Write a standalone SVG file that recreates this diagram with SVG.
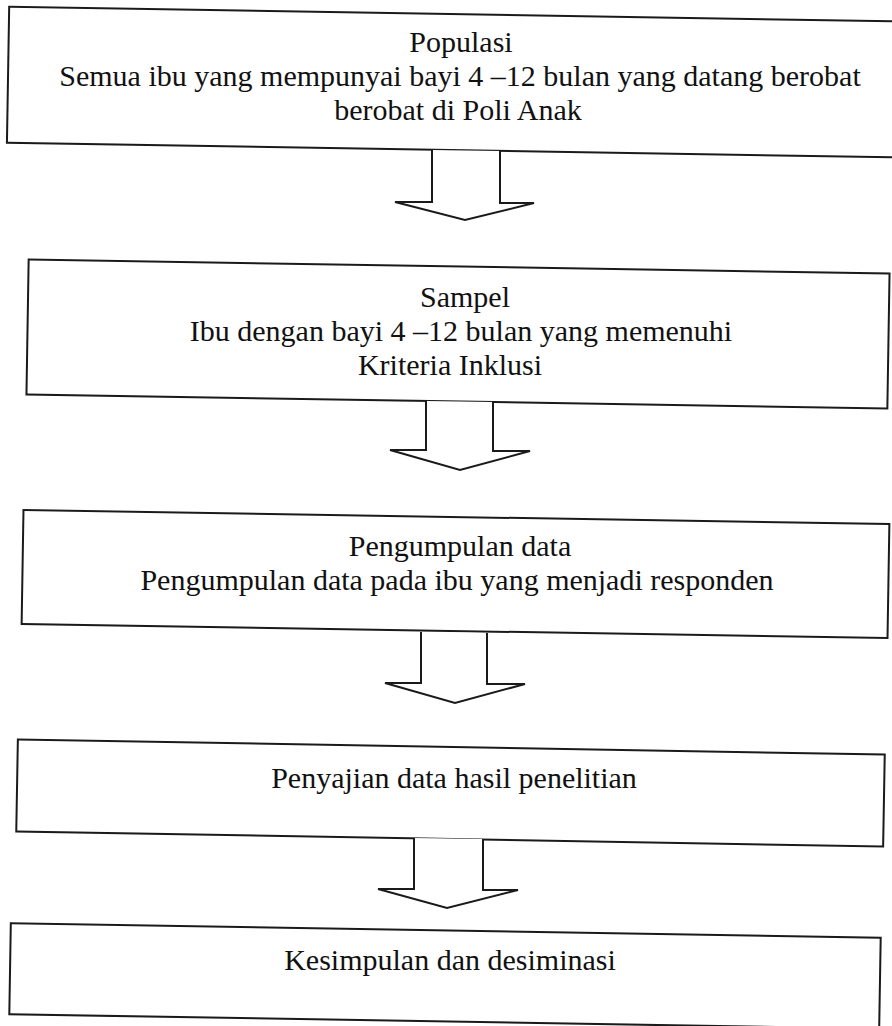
<svg xmlns="http://www.w3.org/2000/svg" width="892" height="1026" viewBox="0 0 892 1026">
<style>
.box{fill:#fff;stroke:#1a1a1a;stroke-width:2}
.t{font-family:"Liberation Serif","Times New Roman",serif;font-size:30px;fill:#111;text-anchor:middle}
.arr{fill:#fff;stroke:#1a1a1a;stroke-width:2;stroke-linejoin:miter}
</style>
<rect width="892" height="1026" fill="#fff"/>
<g id="node-populasi">
<rect class="box" x="8" y="14" width="900" height="136" transform="rotate(0.95 450 82)"/>
<text class="t" x="461" y="52">Populasi</text>
<text class="t" x="460" y="86">Semua ibu yang mempunyai bayi 4 –12 bulan yang datang berobat</text>
<text class="t" x="458" y="120">berobat di Poli Anak</text>
</g>
<g id="node-sampel">
<rect class="box" x="27.5" y="266.5" width="861" height="135" transform="rotate(0.93 458 334)"/>
<text class="t" x="465" y="307">Sampel</text>
<text class="t" x="461" y="341">Ibu dengan bayi 4 –12 bulan yang memenuhi</text>
<text class="t" x="450" y="375">Kriteria Inklusi</text>
</g>
<g id="node-pengumpulan">
<rect class="box" x="22.5" y="517" width="866" height="114" transform="rotate(0.93 455.5 574)"/>
<text class="t" x="460" y="556">Pengumpulan data</text>
<text class="t" x="457" y="590">Pengumpulan data pada ibu yang menjadi responden</text>
</g>
<g id="node-penyajian">
<rect class="box" x="17" y="747" width="867" height="92" transform="rotate(1 450.5 793)"/>
<text class="t" x="454" y="788">Penyajian data hasil penelitian</text>
</g>
<g id="node-kesimpulan">
<rect class="box" x="10" y="930.5" width="870" height="91" transform="rotate(0.95 445 976)"/>
<text class="t" x="450" y="970">Kesimpulan dan desiminasi</text>
</g>
<g id="connectors">
<polyline class="arr" points="432,150 432,202 395,202 465,220 534,203 500,203 500,151"/>
<polyline class="arr" points="426,401 426,450 390,450 460,470 530,451 493,451 493,402"/>
<polyline class="arr" points="421,632 421,683 385,683 455,703 525,684 487,684 487,633"/>
<polyline class="arr" points="414,838 414,889 378,889 447,908 518,890 483,890 483,839"/>
</g>
</svg>
